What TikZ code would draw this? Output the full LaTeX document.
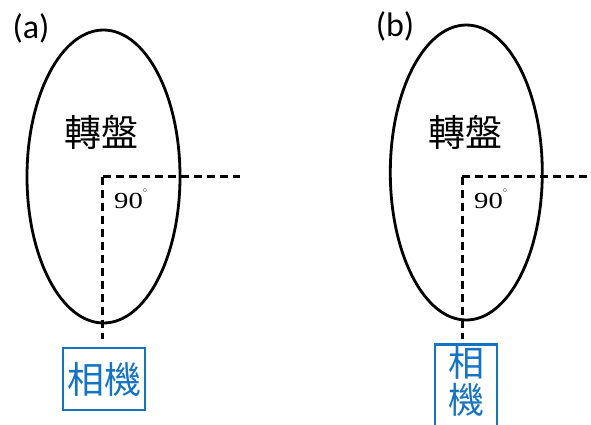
\documentclass[tikz,border=0pt]{standalone}
\usepackage{fontspec}
\setmainfont{Liberation Serif}
\newfontfamily\cjkfont{Noto Sans CJK TC}
\newfontfamily\labfont{Carlito}
\usetikzlibrary{shapes.geometric}
\definecolor{cambblue}{RGB}{20,115,195}
\tikzset{
  disc/.style={draw=black, line width=2.8pt, ellipse, inner sep=0pt, minimum width=153pt, minimum height=293pt},
  axisline/.style={draw=black, line width=2.6pt, dash pattern=on 8pt off 5pt},
  cambox/.style={draw=cambblue, line width=2.6pt, rectangle, inner sep=0pt, text=cambblue, font=\cjkfont\fontsize{37}{39}\selectfont},
  disctext/.style={font=\cjkfont\fontsize{37}{39}\selectfont, inner sep=0pt},
  angtext/.style={font=\fontsize{23}{25}\selectfont, inner sep=0pt, anchor=west},
  panel/.style={font=\labfont\fontsize{34}{36}\selectfont, inner sep=0pt}
}
\newcommand{\ninetydeg}{\scalebox{1.25}[1]{90}\raisebox{0.5em}{\fontsize{12}{12}\selectfont$^{\circ}$}}
\begin{document}
\begin{tikzpicture}[x=1pt,y=-1pt]
\useasboundingbox (0,0) rectangle (591,424);
\clip (0,0) rectangle (591,424);
% panel (a)
\node[panel] (la) at (31,28) {(a)};
\node[disc] (discA) at (103.5,176.5) {};
\node[disctext] (tA) at (101,132) {轉盤};
\coordinate (cA) at (102.7,176.7);
\coordinate (hA) at (240,176.7);
\node[cambox, minimum width=82pt, minimum height=62pt] (camA) at (104,379) {相機};
\draw[axisline] (cA) -- (hA);
\draw[axisline, shorten >=8pt] (cA) -- (cA |- camA.north);
\node[angtext] (angA) at (114,199) {\ninetydeg};
% panel (b)
\node[panel] (lb) at (395,26) {(b)};
\node[disc, minimum width=152pt, minimum height=295pt] (discB) at (466.3,172.5) {};
\node[disctext] (tB) at (465,132) {轉盤};
\coordinate (cB) at (462.3,176.7);
\coordinate (hB) at (595,176.7);
\node[cambox, minimum width=62pt, inner ysep=2pt, text depth=34pt, anchor=north, align=center, font=\cjkfont\fontsize{36}{37}\selectfont] (camB) at (466,343) {相\\機};
\draw[axisline] (cB) -- (hB);
\draw[axisline, shorten >=4pt] (cB) -- (cB |- camB.north);
\node[angtext] (angB) at (474,199) {\ninetydeg};
\end{tikzpicture}
\end{document}
